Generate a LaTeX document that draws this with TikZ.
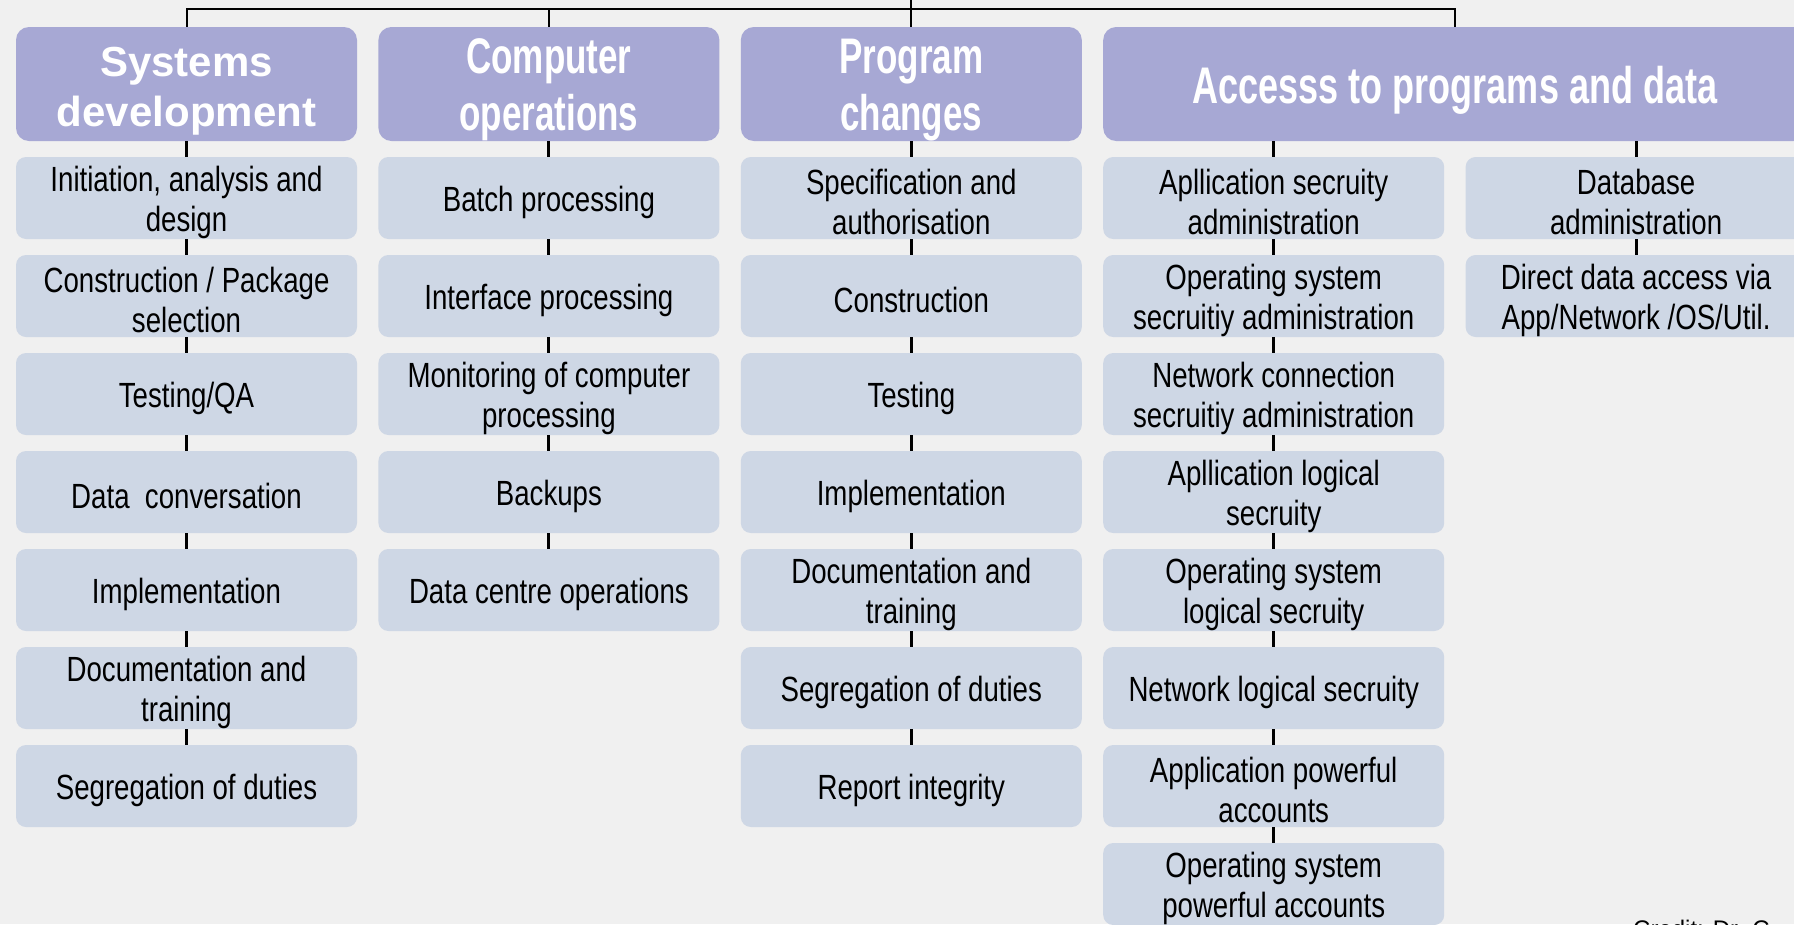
\documentclass[tikz,border=0pt]{standalone}
\usepackage{fontspec}
\setmainfont{Liberation Sans}[FakeStretch=0.79]
\newfontfamily\headfont{Liberation Sans}[FakeStretch=0.70]
\newfontfamily\widefont{Liberation Sans}
\usetikzlibrary{positioning}
\definecolor{bggray}{HTML}{F0F0F0}
\definecolor{lavender}{HTML}{A7A8D4}
\definecolor{paleblue}{HTML}{CED7E5}

\begin{document}
\begin{tikzpicture}[x=1pt, y=1pt,
  headtext/.style={text=white, align=center, inner sep=0pt, yshift=-6pt,
    font=\headfont\bfseries\fontsize{50}{57}\selectfont},
  headbox/.style={fill=lavender, rounded corners=13pt, inner sep=0pt,
    minimum width=341pt, minimum height=114pt},
  head/.style={headbox, label={[headtext]center:{#1}}},
  tasktext/.style={align=center, inner sep=0pt, yshift=-4pt,
    font=\fontsize{35}{40}\selectfont},
  task/.style={fill=paleblue, rounded corners=10pt, inner sep=0pt,
    minimum width=341pt, minimum height=82pt, label={[tasktext]center:{#1}}},
  link/.style={line width=3pt},
  bus/.style={line width=2pt}]

% Background
\fill[bggray] (0,0) rectangle (1794,-924);
\useasboundingbox (0,0) rectangle (1794,-924);

% Headers
\node[headbox, label={[headtext, yshift=-1pt, font=\widefont\bfseries\fontsize{42}{50}\selectfont]center:{Systems\\development}}] (sysdev) at (186.5,-84) {};
\node[head={Computer\\operations}] (compops) at (548.9,-84) {};
\node[head={Program\\changes}] (progchg) at (911.3,-84) {};
\node[head={\fontsize{51.5}{57}\selectfont Accesss to programs and data}, minimum width=703.4pt] (access) at (1454.9,-84) {};

% Bus line over the headers
\coordinate (root) at (911.3,0);
\draw[bus] (sysdev.north) -- ++(0,18) -| (access.north);
\draw[bus] (compops.north) -- ++(0,18);
\draw[bus] (root) -- (progchg.north);

% Systems development
\foreach \txt [count=\i] in {{Initiation, analysis and\\design}, {Construction / Package\\selection},
    Testing/QA, Data~~conversation, Implementation, {Documentation and\\training}, Segregation of duties}
  \node[task=\txt] (sd\i) at (186.5,{-100-98*\i}) {};
\draw[link] (sysdev) -- (sd1);
\foreach \i [count=\j from 2] in {1,...,6}
  \draw[link] (sd\i) -- (sd\j);

% Computer operations
\foreach \txt [count=\i] in {Batch processing, Interface processing,
    {Monitoring of computer\\processing}, Backups, Data centre operations}
  \node[task=\txt] (co\i) at (548.9,{-100-98*\i}) {};
\draw[link] (compops) -- (co1);
\foreach \i [count=\j from 2] in {1,...,4}
  \draw[link] (co\i) -- (co\j);

% Program changes
\foreach \txt [count=\i] in {{Specification and\\authorisation}, Construction, Testing, Implementation,
    {Documentation and\\training}, Segregation of duties, Report integrity}
  \node[task=\txt] (pc\i) at (911.3,{-100-98*\i}) {};
\draw[link] (progchg) -- (pc1);
\foreach \i [count=\j from 2] in {1,...,6}
  \draw[link] (pc\i) -- (pc\j);

% Access to programs and data, left branch
\foreach \txt [count=\i] in {{Apllication secruity\\administration}, {Operating system\\secruitiy administration},
    {Network connection\\secruitiy administration}, {Apllication logical\\secruity},
    {Operating system\\logical secruity}, Network logical secruity,
    {Application powerful\\accounts}, {Operating system\\powerful accounts}}
  \node[task=\txt] (ac\i) at (1273.7,{-100-98*\i}) {};
\draw[link] (ac1 |- access.south) -- (ac1);
\foreach \i [count=\j from 2] in {1,...,7}
  \draw[link] (ac\i) -- (ac\j);

% Access to programs and data, right branch
\node[task={Database\\administration}] (db1) at (1636.1,-198) {};
\node[task={Direct data access via\\App/Network /OS/Util.}] (db2) at (1636.1,-296) {};
\draw[link] (db1 |- access.south) -- (db1);
\draw[link] (db1) -- (db2);

% Credit line
\node[font=\widefont\fontsize{24}{28}\selectfont, inner sep=0pt, anchor=base west] (credit) at (1633,-937) {Credit: Dr. C};

\end{tikzpicture}
\end{document}
